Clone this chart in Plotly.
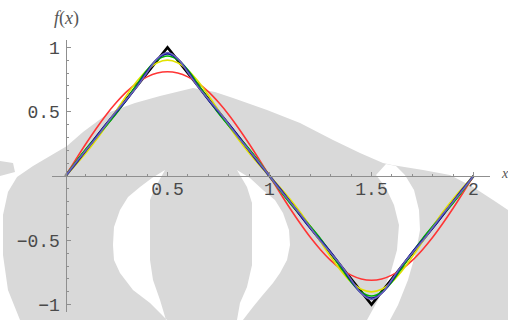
import plotly.graph_objects as go

# ---------------- data ----------------
x_pts = [0.00, 0.05, 0.10, 0.15, 0.20, 0.25, 0.30, 0.35, 0.40, 0.45, 0.50,
         0.55, 0.60, 0.65, 0.70, 0.75, 0.80, 0.85, 0.90, 0.95, 1.00,
         1.05, 1.10, 1.15, 1.20, 1.25, 1.30, 1.35, 1.40, 1.45, 1.50,
         1.55, 1.60, 1.65, 1.70, 1.75, 1.80, 1.85, 1.90, 1.95, 2.00]

s1 = [0, .127, .251, .368, .477, .573, .656, .722, .771, .801, .811,
      .801, .771, .722, .656, .573, .477, .368, .251, .127, 0,
      -.127, -.251, -.368, -.477, -.573, -.656, -.722, -.771, -.801, -.811,
      -.801, -.771, -.722, -.656, -.573, -.477, -.368, -.251, -.127, 0]
s2 = [0, .086, .178, .279, .391, .510, .628, .736, .824, .881, .901,
      .881, .824, .736, .628, .510, .391, .279, .178, .086, 0,
      -.086, -.178, -.279, -.391, -.510, -.628, -.736, -.824, -.881, -.901,
      -.881, -.824, -.736, -.628, -.510, -.391, -.279, -.178, -.086, 0]
s3 = [0, .109, .210, .302, .391, .487, .596, .713, .824, .904, .933,
      .904, .824, .713, .596, .487, .391, .302, .210, .109, 0,
      -.109, -.210, -.302, -.391, -.487, -.596, -.713, -.824, -.904, -.933,
      -.904, -.824, -.713, -.596, -.487, -.391, -.302, -.210, -.109, 0]
s4 = [0, .094, .197, .305, .407, .498, .591, .697, .814, .911, .950,
      .911, .814, .697, .591, .498, .407, .305, .197, .094, 0,
      -.094, -.197, -.305, -.407, -.498, -.591, -.697, -.814, -.911, -.950,
      -.911, -.814, -.697, -.591, -.498, -.407, -.305, -.197, -.094, 0]
s5 = [0, .104, .200, .296, .401, .505, .599, .693, .805, .913, .960,
      .913, .805, .693, .599, .505, .401, .296, .200, .104, 0,
      -.104, -.200, -.296, -.401, -.505, -.599, -.693, -.805, -.913, -.960,
      -.913, -.805, -.693, -.599, -.505, -.401, -.296, -.200, -.104, 0]

tri_x = [0, 0.5, 1, 1.5, 2]
tri_y = [0, 1, 0, -1, 0]

x_tick_vals = [0.5, 1, 1.5, 2]
x_tick_text = ["0.5", "1", "1.5", "2"]
y_tick_vals = [-1, -0.5, 0.5, 1]
y_tick_text = ["\u22121", "\u22120.5", "0.5", "1"]

# ---------------- figure ----------------
W, H = 508, 320
X0PX, XSCALE = 65.5, 204.0     # pixel of x=0, pixels per unit
Y0PX, YSCALE = 176.0, 128.6    # pixel of y=0, pixels per unit

fig = go.Figure()

fig.add_trace(go.Scatter(x=tri_x, y=tri_y, mode="lines",
                         line=dict(color="#000000", width=2.6)))
series = [(s1, "#ff3535"), (s2, "#e2e200"), (s3, "#00b400"),
          (s4, "#10109a"), (s5, "#6a64bc")]
for ys, col in series:
    fig.add_trace(go.Scatter(x=x_pts, y=ys, mode="lines",
                             line=dict(color=col, width=1.6, shape="spline")))

# --- watermark (decoration) ---
def path(pts):
    s = ""
    for i, (px, py) in enumerate(pts):
        s += ("M" if i == 0 else "L") + f"{px / W:.4f},{1 - py / H:.4f} "
    return s + "Z"

gray = "#d9d9d9"
body = [(20, 320), (8, 290), (3, 255), (3, 215), (8, 192), (17, 177), (33, 166),
        (67, 146), (83, 132), (110, 112), (135, 103), (160, 96), (193, 88),
        (215, 92), (233, 98), (267, 110), (300, 123), (333, 140), (360, 153),
        (383, 163), (392, 165), (423, 170), (450, 175), (473, 187), (493, 200),
        (508, 210), (508, 320)]
patch = [(0, 161), (13, 163), (15, 172), (0, 176)]
left_cres = [(165, 170), (152, 178), (140, 187), (128, 197), (120, 210), (114, 227),
             (113, 245), (114, 260), (120, 273), (133, 290), (150, 303), (160, 313),
             (167, 320), (166, 320), (160, 300), (153, 280), (150, 260), (150, 200),
             (155, 188)]
right_cres = [(237, 170), (250, 178), (263, 190), (275, 200), (283, 213), (289, 230),
              (290, 245), (287, 260), (280, 273), (273, 283), (262, 296), (253, 307),
              (243, 320), (237, 320), (240, 303), (247, 287), (252, 265), (252, 203),
              (247, 187)]
far_cres = [(386, 164), (396, 166), (405, 175), (414, 190), (419, 210), (420, 230),
            (416, 252), (408, 280), (398, 305), (390, 320), (367, 320), (378, 300),
            (390, 275), (397, 250), (399, 225), (394, 205), (386, 188), (376, 175)]

shapes = []
for pts, col in [(body, gray), (patch, gray), (left_cres, "white"),
                 (right_cres, "white"), (far_cres, "white")]:
    shapes.append(dict(type="path", path=path(pts), xref="paper", yref="paper",
                       fillcolor=col, line=dict(width=0), layer="below"))

tick_font = dict(family="Liberation Mono", size=18, color="#4a4a4a")
axis_col = "#8f8f8f"

x_dom = [52 / W, 490 / W]
y_dom = [1 - 312 / H, 1 - 40 / H]

fig.update_layout(
    width=W, height=H,
    margin=dict(l=0, r=0, t=0, b=0, autoexpand=False),
    paper_bgcolor="white", plot_bgcolor="rgba(0,0,0,0)",
    showlegend=False,
    shapes=shapes,
    xaxis=dict(domain=x_dom,
               range=[(52 - X0PX) / XSCALE, (490 - X0PX) / XSCALE],
               anchor="free", position=1 - Y0PX / H,
               showgrid=False, zeroline=False,
               showline=True, linecolor=axis_col, linewidth=1,
               tickmode="array", tickvals=x_tick_vals, ticktext=x_tick_text,
               ticks="inside", ticklen=4, tickcolor=axis_col, tickwidth=1,
               minor=dict(dtick=0.1, tick0=0, ticks="inside", ticklen=2,
                          tickcolor=axis_col, tickwidth=1),
               tickfont=tick_font, ticklabelstandoff=-4, fixedrange=True),
    yaxis=dict(domain=y_dom,
               range=[(Y0PX - 312) / YSCALE, (Y0PX - 40) / YSCALE],
               anchor="free", position=X0PX / W,
               showgrid=False, zeroline=False,
               showline=True, linecolor=axis_col, linewidth=1,
               tickmode="array", tickvals=y_tick_vals, ticktext=y_tick_text,
               ticks="inside", ticklen=4, tickcolor=axis_col, tickwidth=1,
               minor=dict(dtick=0.1, tick0=0, ticks="inside", ticklen=2,
                          tickcolor=axis_col, tickwidth=1),
               tickfont=tick_font, ticklabelstandoff=2, fixedrange=True),
    annotations=[
        dict(text="<i>f</i>(<i>x</i>)", xref="paper", yref="paper",
             x=66 / W, y=1 - 19 / H, xanchor="center", yanchor="middle",
             showarrow=False,
             font=dict(family="Liberation Serif", size=18, color="#555555")),
        dict(text="<i>x</i>", xref="paper", yref="paper",
             x=499 / W, y=1 - 173 / H, xanchor="left", yanchor="middle",
             showarrow=False,
             font=dict(family="Liberation Serif", size=14, color="#555555")),
    ],
)

fig.write_html("out.html",
               config={"displayModeBar": False, "staticPlot": True},
               post_script="document.body.style.margin='0';"
                           "document.body.style.padding='0';")
